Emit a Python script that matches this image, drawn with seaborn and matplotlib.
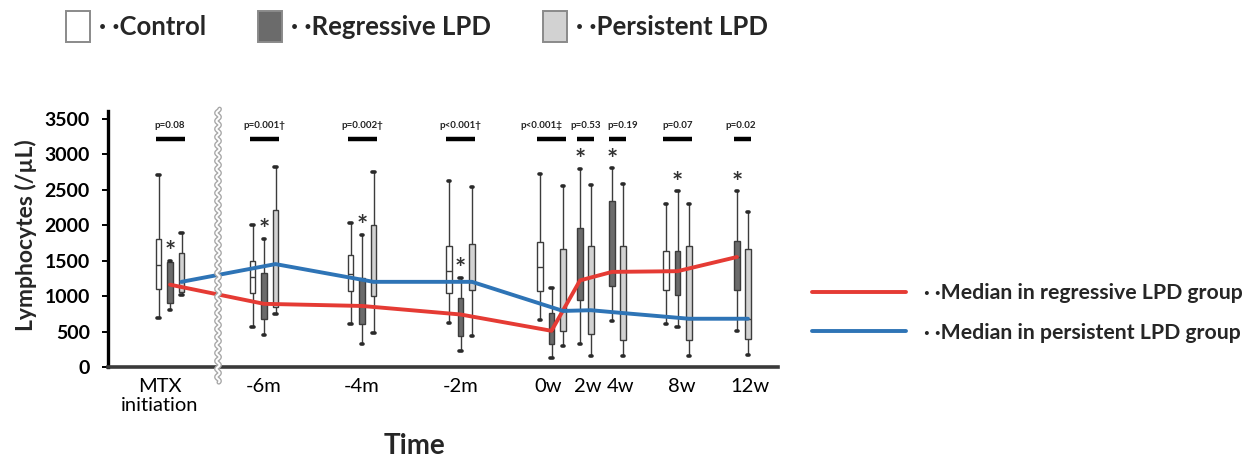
import numpy as np
import pandas as pd
import matplotlib
matplotlib.use("Agg")
import matplotlib.pyplot as plt
import matplotlib.transforms as mtransforms
from matplotlib.patches import Patch
from matplotlib.lines import Line2D
import seaborn as sns

# ---------------- data ----------------
time_points = ["MTX\ninitiation", "-6m", "-4m", "-2m", "0w", "2w", "4w", "8w", "12w"]
group_names = ["Control", "Regressive LPD", "Persistent LPD"]

# five-number summaries:
# [lower whisker, Q1, median, Q3, upper whisker]; None = no box at that time
control_stats = [
    [690, 1100, 1440, 1810, 2710],
    [570, 1040, 1270, 1500, 2000],
    [605, 1075, 1305, 1575, 2025],
    [625, 1040, 1350, 1700, 2625],
    [660, 1075, 1410, 1760, 2720],
    None,
    None,
    [610, 1080, 1360, 1640, 2300],
    None,
]
regressive_stats = [
    [800, 900, 1160, 1480, 1500],
    [450, 670, 890, 1330, 1810],
    [330, 600, 860, 1250, 1860],
    [230, 440, 740, 975, 1255],
    [127, 320, 510, 760, 1115],
    [325, 940, 1220, 1960, 2795],
    [645, 1135, 1340, 2335, 2800],
    [560, 1020, 1350, 1630, 2475],
    [510, 1080, 1550, 1780, 2475],
]
persistent_stats = [
    [1020, 1055, 1200, 1610, 1890],
    [740, 840, 1450, 2210, 2825],
    [480, 1000, 1200, 2000, 2750],
    [435, 1080, 1200, 1740, 2540],
    [300, 510, 790, 1665, 2545],
    [150, 465, 800, 1705, 2560],
    [150, 380, 760, 1705, 2575],
    [150, 380, 680, 1700, 2290],
    [165, 400, 680, 1660, 2180],
]
regressive_star = [True, True, True, True, False, True, True, True, True]
p_labels = ["p=0.08", "p=0.001\u2020", "p=0.002\u2020", "p<0.001\u2020",
            "p<0.001\u2021", "p=0.53", "p=0.19", "p=0.07", "p=0.02"]
y_ticks = [0, 500, 1000, 1500, 2000, 2500, 3000, 3500]
box_labels = ["\u00b7 \u00b7Control", "\u00b7 \u00b7Regressive LPD", "\u00b7 \u00b7Persistent LPD"]
line_labels = ["\u00b7 \u00b7Median in regressive LPD group",
               "\u00b7 \u00b7Median in persistent LPD group"]

# ---------------- layout (axis units) ----------------
group_center = [170, 264, 362, 460.5, 551.5, 585.5, 617.5, 677.5, 742.5]
tick_pos = [160, 264, 362, 461, 548, 588, 621, 682, 750]
p_text_shift = [0, 0, 0, 0, -10, 0, 5, 0, -2]
offsets3 = {"Control": -11.5, "Regressive LPD": 0.0, "Persistent LPD": 11.5}
offsets2 = {"Regressive LPD": -5.5, "Persistent LPD": 5.5}
x_range = (108, 778)
y_range = (0, 3600)
break_x = 218
pbar_y = 3215
ptext_y = 3400

colors = {"Control": "#ffffff", "Regressive LPD": "#6b6b6b", "Persistent LPD": "#d2d2d2"}
red = "#e53b34"
blue = "#2e74b6"

FONT = ["Lato", "DejaVu Sans"]
sns.set_theme(style="white")
plt.rcParams["font.family"] = FONT

stats_by_group = {"Control": control_stats, "Regressive LPD": regressive_stats,
                  "Persistent LPD": persistent_stats}

rows = []
pos_by_group = {g: [None] * len(time_points) for g in group_names}
for i in range(len(time_points)):
    present = [g for g in group_names if stats_by_group[g][i] is not None]
    offs = offsets3 if len(present) == 3 else offsets2
    for g in present:
        p = group_center[i] + offs[g]
        pos_by_group[g][i] = p
        for v in stats_by_group[g][i]:
            rows.append({"pos": p, "group": g, "value": v})
df = pd.DataFrame(rows)

fig = plt.figure(figsize=(12.57, 4.61), dpi=100)
ax = fig.add_axes([108 / 1257, (461 - 367) / 461, 670 / 1257, (367 - 111.5) / 461])

sns.boxplot(data=df, x="pos", y="value", hue="group", hue_order=group_names,
            palette=colors, native_scale=True, dodge=False, whis=np.inf,
            width=0.5, linewidth=1.0, linecolor="#3c3c3c", legend=False, ax=ax,
            capprops=dict(linewidth=2.6, color="#2a2a2a"))

# median lines
reg_x = pos_by_group["Regressive LPD"]
reg_med = [s[2] for s in regressive_stats]
per_x = pos_by_group["Persistent LPD"]
per_med = [s[2] for s in persistent_stats]
sns.lineplot(x=reg_x, y=reg_med, sort=False, color=red, linewidth=2.8, ax=ax, zorder=6)
sns.lineplot(x=per_x, y=per_med, sort=False, color=blue, linewidth=2.8, ax=ax, zorder=6)

# stars above regressive boxes
for i, s in enumerate(regressive_stats):
    if regressive_star[i]:
        ax.annotate("*", xy=(reg_x[i], s[4]), xytext=(0, 0.5), textcoords="offset points",
                    ha="center", va="baseline", fontsize=19, fontweight="bold",
                    color="#333333", zorder=7)

# p-value bars and labels
for i, lab in enumerate(p_labels):
    xs = [pos_by_group[g][i] for g in group_names if pos_by_group[g][i] is not None]
    x0, x1 = min(xs) - 3, max(xs) + 3
    ax.plot([x0, x1], [pbar_y, pbar_y], color="black", linewidth=3.2,
            solid_capstyle="butt", zorder=5)
    ax.text((x0 + x1) / 2 + p_text_shift[i], ptext_y, lab, ha="center", va="center",
            fontsize=7, fontweight="bold", color="#222222")

# axis break (wavy double line)
trans = mtransforms.blended_transform_factory(ax.transData, ax.transAxes)
yy = np.linspace(-0.06, 1.01, 400)
xx = break_x + 1.6 * np.sin(yy * 2 * np.pi * 255.5 / 8.0)
ax.plot(xx, yy, transform=trans, color="#a8a8a8", linewidth=3.4, clip_on=False, zorder=8)
ax.plot(xx, yy, transform=trans, color="white", linewidth=1.4, clip_on=False, zorder=9)

ax.set_xlim(*x_range)
ax.set_ylim(*y_range)
ax.set_xticks(tick_pos)
ax.set_xticklabels(time_points, fontsize=14.5, linespacing=1.1)
ax.set_yticks(y_ticks)
ax.set_yticklabels([str(t) for t in y_ticks], fontsize=14, fontweight="bold")
ax.tick_params(axis="x", length=0, pad=8, colors="black")
ax.tick_params(axis="y", direction="out", length=4, width=1.4, pad=9, colors="black", left=True)

ax.set_xlabel("Time", fontsize=20, fontweight="bold")
ax.xaxis.set_label_coords((415 - 108) / 670, (367 - 446) / 255.5)
ax.xaxis.label.set_va("center")
ax.set_ylabel("Lymphocytes (/\u00b5L)", fontsize=16.5, fontweight="bold")
ax.yaxis.set_label_coords((26 - 108) / 670, (367 - 235) / 255.5)
ax.yaxis.label.set_va("center")

for side in ["top", "right"]:
    ax.spines[side].set_visible(False)
ax.spines["left"].set_color("black")
ax.spines["left"].set_linewidth(2.4)
ax.spines["bottom"].set_color("#3a3a3a")
ax.spines["bottom"].set_linewidth(2.6)
ax.grid(False)

# top legend (box groups)
box_handles = [Patch(facecolor=colors[g], edgecolor="#8a8a8a", linewidth=1.4) for g in group_names]
fig.legend(box_handles, box_labels, loc="upper left",
           bbox_to_anchor=(66 / 1257, 1 - 11 / 461), ncol=3, frameon=False,
           prop={"weight": "bold", "size": 18.5}, handlelength=0.95,
           handleheight=1.45, handletextpad=0.35, columnspacing=2.0,
           borderpad=0, borderaxespad=0)

# right legend (median lines)
line_handles = [Line2D([], [], color=red, linewidth=2.8), Line2D([], [], color=blue, linewidth=2.8)]
fig.legend(line_handles, line_labels, loc="upper left",
           bbox_to_anchor=(812 / 1257, 1 - 283 / 461), frameon=False,
           prop={"weight": "bold", "size": 15.3}, handlelength=4.4,
           handletextpad=0.85, labelspacing=0.92, borderpad=0, borderaxespad=0)

fig.savefig("out.png", dpi=100, facecolor="white")
